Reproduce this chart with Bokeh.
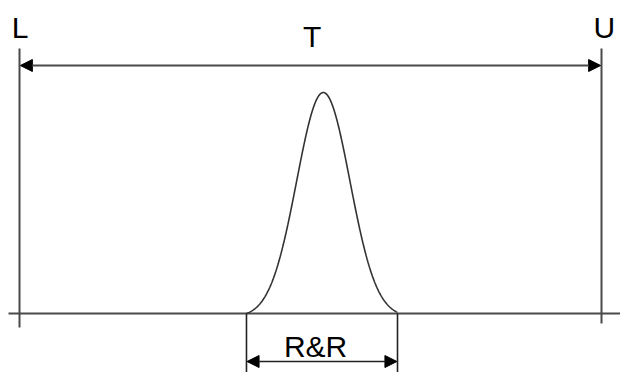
import numpy as np
from bokeh.plotting import figure
from bokeh.models import Range1d, Arrow, NormalHead, ColumnDataSource
from bokeh.core.properties import value
from bokeh.embed import file_html
from bokeh.resources import INLINE

# ---- data (spec units: L = 0, U = 100) ----
limit_labels = ["L", "U"]
limit_values = [0.0, 100.0]
tolerance_label = "T"
rr_label = "R&R"
rr_interval = [39.0, 64.95]      # measurement (R&R) spread on the spec scale
process_mean = 52.2
process_sigma = 4.57
peak_height = 221.0              # curve height (px units above baseline)

# ---- layout (pixel-like constants) ----
W, H = 620, 372
px_per_unit = 5.82
x0_px = 19                       # pixel position of L within figure
base_px = 313                    # baseline position from top

p = figure(width=W, height=H, output_backend="svg", toolbar_location=None,
           x_range=Range1d(-x0_px / px_per_unit, (W - x0_px) / px_per_unit),
           y_range=Range1d(-(H - base_px), base_px),
           x_axis_type=None, y_axis_type=None, min_border=0)
p.outline_line_color = None
p.xgrid.visible = False
p.ygrid.visible = False
p.background_fill_color = "white"

line_col = "#4a4a4a"

# baseline
p.line(x=[p.x_range.start + 8 / px_per_unit, p.x_range.end + 2], y=[0, 0],
       line_color=line_col, line_width=1.8)

# spec limit verticals
p.segment(x0=[limit_values[0]], y0=[265], x1=[limit_values[0]], y1=[-14],
          line_color=line_col, line_width=2)
p.segment(x0=[limit_values[1]], y0=[265], x1=[limit_values[1]], y1=[-10],
          line_color=line_col, line_width=2)

# R&R verticals
p.segment(x0=rr_interval, y0=[0, 0], x1=rr_interval, y1=[-70, -70],
          line_color="#222222", line_width=1.6)

# normal curve across the R&R interval
xs = np.linspace(rr_interval[0], rr_interval[1], 300)
g = np.exp(-0.5 * ((xs - process_mean) / process_sigma) ** 2)
g_end = min(g[0], g[-1])
ys = np.clip(peak_height * (g - g_end) / (1 - g_end), 0, None)
p.line(x=xs, y=ys, line_color="#333333", line_width=1.6)

# arrows
def head():
    return NormalHead(size=12, line_color="black", fill_color="black", line_width=1)

p.add_layout(Arrow(start=head(), end=head(), x_start=limit_values[0] + 0.15, y_start=248,
                   x_end=limit_values[1] - 0.15, y_end=248, line_color=line_col, line_width=1.8))
p.add_layout(Arrow(start=head(), end=head(), x_start=rr_interval[0] + 0.1, y_start=-48,
                   x_end=rr_interval[1] - 0.1, y_end=-48, line_color="#222222", line_width=1.6))

# labels
lab = ColumnDataSource(dict(
    x=[limit_values[0] + 0.1, (limit_values[0] + limit_values[1]) / 2 + 0.3,
       limit_values[1] + 0.5, (rr_interval[0] + rr_interval[1]) / 2 - 1.1],
    y=[286.5, 277, 286.5, -33],
    t=[limit_labels[0], tolerance_label, limit_labels[1], rr_label],
))
p.text(x="x", y="y", text="t", source=lab, text_font=value("Liberation Sans"),
       text_font_size="30px", text_align="center", text_baseline="middle",
       text_color="black")

open("out.html", "w").write(file_html(p, INLINE))
